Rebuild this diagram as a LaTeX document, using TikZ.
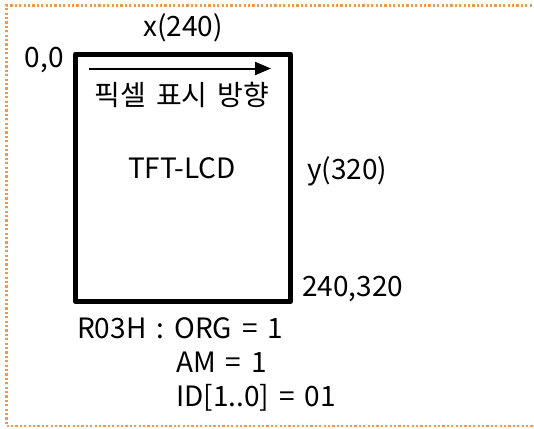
\documentclass[tikz,border=0pt]{standalone}
\usepackage{fontspec}
\setmainfont[WordSpace=1.6]{Noto Sans CJK KR}
\usetikzlibrary{arrows.meta}
\definecolor{frameorange}{HTML}{F79646}
\tikzset{
  lbl/.style={inner sep=0pt, font=\fontsize{28}{32}\selectfont},
  frame/.style={draw=frameorange, line width=2.2pt, dash pattern=on 2.2pt off 2.2pt},
  lcd/.style={draw=black, line width=5pt, line join=round},
  scanarrow/.style={draw=black, line width=2pt, -{Triangle[length=16pt,width=13pt]}}
}
\begin{document}
\begin{tikzpicture}[x=1pt,y=-1pt]
\useasboundingbox (0,0) rectangle (534,428);
\fill[white] (0,0) rectangle (534,428);
\draw[frame] (545,5.5) -- (6.5,5.5) -- (6.5,426) -- (545,426);
\node[lcd, minimum width=215pt, minimum height=247.5pt, inner sep=0pt, anchor=north west] (screen) at (73,51.5) {};
\coordinate (s) at (89,68.5);
\coordinate (e) at (271,68.5);
\draw[scanarrow] (s) -- (e);
\node[lbl, anchor=base] (xl) at (183,37) {x(240)};
\node[lbl, anchor=base east] (o) at (64,67) {0,0};
\node[lbl, anchor=base] (dir) at (182,105) {픽셀 표시 방향};
\node[lbl, anchor=base] (tft) at (182,178) {TFT-LCD};
\node[lbl, anchor=base west] (yl) at (307,179) {y(320)};
\node[lbl, anchor=base west] (end) at (302,296) {240,320};
\node[lbl, anchor=base west] (r1) at (77,338) {R03H : ORG = 1};
\node[lbl, anchor=base west] (r2) at (176,372) {AM = 1};
\node[lbl, anchor=base west] (r3) at (176,406) {ID[1..0] = 01};
\end{tikzpicture}
\end{document}
